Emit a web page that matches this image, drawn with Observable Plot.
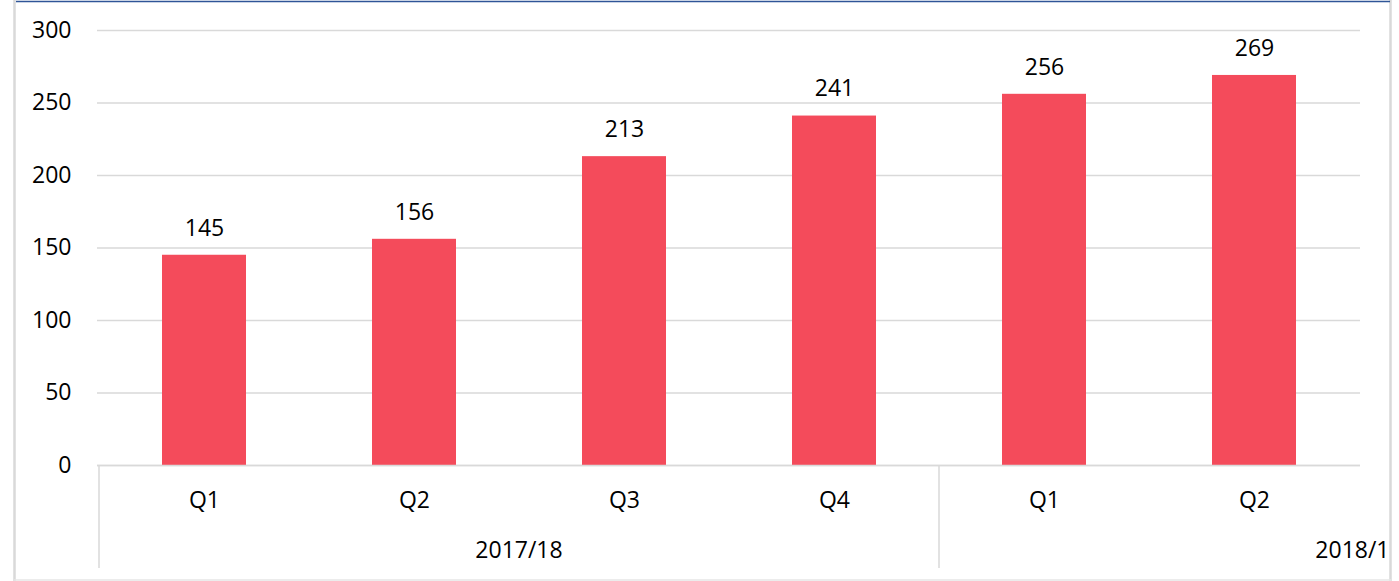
<!DOCTYPE html>
<html>
<head>
<meta charset="utf-8">
<script src="https://cdn.jsdelivr.net/npm/d3@7"></script>
<script src="https://cdn.jsdelivr.net/npm/@observablehq/plot@0.6"></script>
<style>
  html, body { margin: 0; padding: 0; background: #fff; }
  svg { display: block; }
</style>
</head>
<body>
<div id="chart"></div>
<script>
const years = ["2017/18", "2017/18", "2017/18", "2017/18", "2018/19", "2018/19"];
const quarters = ["Q1", "Q2", "Q3", "Q4", "Q1", "Q2"];
const values = [145, 156, 213, 241, 256, 269];
const yTicks = [0, 50, 100, 150, 200, 250, 300];
const yearGroups = ["2017/18", "2018/19"];

const data = values.map((v, i) => ({id: years[i] + " " + quarters[i], year: years[i], quarter: quarters[i], value: v}));
const ids = data.map(d => d.id);
const qOf = Object.fromEntries(data.map(d => [d.id, d.quarter]));

const FONT = "'Open Sans', sans-serif";
const GRID = "#D9D9D9";

const chart = Plot.plot({
  width: 1399,
  height: 581,
  marginLeft: 97,
  marginRight: 39,
  marginTop: 30,
  marginBottom: 116,
  style: {fontFamily: FONT, fontSize: "23px", color: "#000", background: "#fff"},
  x: {domain: ids, paddingInner: 0.6, paddingOuter: 0.3, label: null},
  y: {domain: [0, 300], ticks: yTicks, label: null},
  marks: [
    Plot.gridY(yTicks, {stroke: GRID, strokeOpacity: 1, strokeWidth: 1.5}),
    Plot.barY(data, {x: "id", y: "value", fill: "#F44B5B"}),
    Plot.text(data, {x: "id", y: "value", text: d => String(d.value), dy: -27, lineAnchor: "middle", fontSize: 23, fill: "#000"}),
    Plot.axisY(yTicks, {tickSize: 0, tickPadding: 26, fontSize: 23, label: null}),
    Plot.axisX({tickSize: 0, tickPadding: 35, lineAnchor: "middle", fontSize: 23, label: null, tickFormat: id => qOf[id]}),
    Plot.ruleY([0], {stroke: GRID, strokeWidth: 1.5})
  ]
});

document.getElementById("chart").appendChild(chart);

// group separators and year labels, positioned through Plot's x scale
const sx = chart.scale("x");
const bw = sx.bandwidth, step = sx.step;
const gap = (step - bw) / 2;
const svg = d3.select(chart);
const y0 = chart.scale("y").apply(0);

const groups = yearGroups.map(g => {
  const members = ids.filter(id => id.startsWith(g));
  const left = sx.apply(members[0]) - gap;
  const right = sx.apply(members[members.length - 1]) + bw + gap;
  return {g, left, right};
});

const clipId = "frameclip";
svg.append("defs").append("clipPath").attr("id", clipId)
  .append("rect").attr("x", 0).attr("y", 0).attr("width", 1389).attr("height", 581);

const deco = svg.append("g").attr("clip-path", `url(#${clipId})`);
// separators: left of each group
groups.forEach(gr => {
  deco.append("line").attr("x1", gr.left).attr("x2", gr.left)
    .attr("y1", y0).attr("y2", y0 + 103)
    .attr("stroke", GRID).attr("stroke-width", 1.5);
});
// year labels (the last one is cut by the chart frame, as in the original)
groups.forEach((gr, i) => {
  const cx = i === groups.length - 1 ? gr.right : (gr.left + gr.right) / 2;
  deco.append("text").attr("x", cx).attr("y", y0 + 86).attr("dy", "0.32em")
    .attr("text-anchor", "middle").attr("font-family", FONT).attr("font-size", 23)
    .attr("fill", "#000").text(gr.g);
});

// outer chart frame
svg.append("line").attr("x1", 14.5).attr("x2", 14.5).attr("y1", 0).attr("y2", 581).attr("stroke", GRID).attr("stroke-width", 2.5);
svg.append("line").attr("x1", 1390.5).attr("x2", 1390.5).attr("y1", 0).attr("y2", 581).attr("stroke", GRID).attr("stroke-width", 2.5);
svg.append("line").attr("x1", 14).attr("x2", 1391).attr("y1", 580).attr("y2", 580).attr("stroke", "#E6E6E6").attr("stroke-width", 1.5);
svg.append("line").attr("x1", 16).attr("x2", 1390).attr("y1", 1.5).attr("y2", 1.5).attr("stroke", "#2F5597").attr("stroke-width", 1.5);
</script>
</body>
</html>
